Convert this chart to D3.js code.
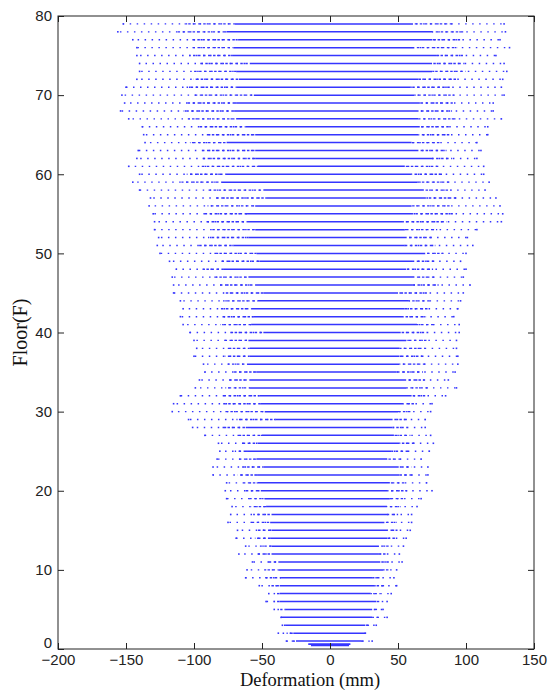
<!DOCTYPE html>
<html>
<head>
<meta charset="utf-8">
<script src="https://cdn.jsdelivr.net/npm/d3@7"></script>
<style>
  body { margin: 0; background: #fff; }
  svg { display: block; }
</style>
</head>
<body>
<div id="chart"></div>
<script>
// Floors 1..79, values (mm)
const floors = d3.range(1, 80);

// outermost dot on the left / right of each floor
const leftMin = [-32, -38, -35, -36, -41, -47, -45, -52, -62, -61, -57, -67, -62, -69, -68, -75, -73, -72, -76, -77,
  -76, -86, -86, -83, -81, -82, -92, -101, -104, -116, -115, -110, -99, -96, -92, -93, -100, -98, -100, -103,
  -108, -110, -108, -110, -115, -115, -116, -113, -118, -125, -127, -126, -129, -129, -130, -133, -132, -140, -145, -140,
  -148, -142, -141, -136, -137, -138, -148, -154, -151, -153, -150, -142, -140, -140, -142, -142, -145, -156, -152];
const rightMax = [31, 26, 34, 42, 39, 42, 45, 49, 47, 49, 53, 51, 54, 56, 59, 60, 60, 64, 67, 75,
  71, 72, 72, 67, 73, 76, 74, 70, 70, 74, 75, 85, 93, 87, 92, 94, 94, 93, 93, 95,
  95, 91, 94, 96, 98, 103, 98, 100, 96, 100, 105, 101, 108, 126, 127, 125, 122, 114, 117, 113,
  113, 108, 111, 108, 116, 116, 126, 120, 120, 128, 126, 127, 130, 128, 122, 132, 125, 129, 128];

// where the solid (dense) part of each floor starts / ends
const leftCore = [-25, -27, -33, -36, -33, -37, -37, -37, -36, -38, -38, -43, -43, -44, -43, -44, -43, -47, -48, -50,
  -53, -53, -49, -54, -61, -53, -50, -61, -40, -48, -50, -52, -59, -59, -54, -61, -59, -59, -60, -49,
  -58, -56, -58, -53, -49, -55, -60, -78, -52, -54, -71, -60, -55, -61, -61, -55, -47, -49, -80, -77,
  -53, -55, -55, -76, -55, -62, -69, -70, -69, -56, -69, -67, -69, -59, -72, -71, -67, -76, -70];
const rightCore = [23, 26, 26, 31, 31, 34, 30, 33, 31, 39, 37, 36, 36, 42, 42, 40, 42, 42, 44, 42,
  44, 51, 50, 42, 45, 51, 47, 46, 46, 50, 54, 60, 56, 56, 49, 51, 51, 51, 56, 52,
  64, 54, 55, 58, 50, 61, 62, 56, 61, 70, 55, 56, 55, 53, 61, 60, 70, 69, 64, 60,
  55, 75, 65, 60, 65, 66, 65, 65, 66, 62, 59, 65, 75, 75, 78, 62, 75, 75, 61];

// short packed segments just above the base
const baseFloors = [0.45, 0.62];
const baseLo = [-14, -16];
const baseHi = [14, 15];

const xTicks = [-200, -150, -100, -50, 0, 50, 100, 150];
const yTicks = [0, 10, 20, 30, 40, 50, 60, 70, 80];

const width = 550, height = 700;
const plotL = 58, plotR = 534, plotT = 16, plotB = 649;
const blue = '#3535ff';

const svg = d3.select('#chart').append('svg')
  .attr('width', width)
  .attr('height', height);

const x = d3.scaleLinear().domain([-200, 150]).range([plotL, plotR]);
const y = d3.scaleLinear().domain([0, 80]).range([plotB, plotT]);

const rows = floors.map((f, i) => ({
  floor: f, i: i,
  lo: leftMin[i], cl: leftCore[i], cr: rightCore[i], hi: rightMax[i]
}));

const plot = svg.append('g');

// sparse dotted zones (outer)
plot.selectAll('.sparseL').data(rows).enter().append('line')
  .attr('x1', d => x(d.lo)).attr('x2', d => x(d.cl))
  .attr('y1', d => y(d.floor)).attr('y2', d => y(d.floor))
  .attr('stroke', blue).attr('stroke-width', 1.4)
  .attr('stroke-dasharray', '1.5 5.5')
  .attr('stroke-dashoffset', d => (d.i * 2.7) % 7);
plot.selectAll('.sparseR').data(rows).enter().append('line')
  .attr('x1', d => x(d.cr)).attr('x2', d => x(d.hi))
  .attr('y1', d => y(d.floor)).attr('y2', d => y(d.floor))
  .attr('stroke', blue).attr('stroke-width', 1.4)
  .attr('stroke-dasharray', '1.5 5.5')
  .attr('stroke-dashoffset', d => (d.i * 3.1) % 7);

// denser dashes close to the solid part
plot.selectAll('.denseL').data(rows).enter().append('line')
  .attr('x1', d => x(d.cl + (d.lo - d.cl) * 0.45)).attr('x2', d => x(d.cl))
  .attr('y1', d => y(d.floor)).attr('y2', d => y(d.floor))
  .attr('stroke', blue).attr('stroke-width', 1.4)
  .attr('stroke-dasharray', '2.5 2.5')
  .attr('stroke-dashoffset', d => (d.i * 1.3) % 5);
plot.selectAll('.denseR').data(rows).enter().append('line')
  .attr('x1', d => x(d.cr)).attr('x2', d => x(d.cr + (d.hi - d.cr) * 0.45))
  .attr('y1', d => y(d.floor)).attr('y2', d => y(d.floor))
  .attr('stroke', blue).attr('stroke-width', 1.4)
  .attr('stroke-dasharray', '2.5 2.5')
  .attr('stroke-dashoffset', d => (d.i * 1.9) % 5);

// solid core
plot.selectAll('.core').data(rows).enter().append('line')
  .attr('x1', d => x(d.cl)).attr('x2', d => x(d.cr))
  .attr('y1', d => y(d.floor)).attr('y2', d => y(d.floor))
  .attr('stroke', blue).attr('stroke-width', 1.5);

// extreme dots
plot.selectAll('.ext').data(rows.flatMap(d => [{ v: d.lo, f: d.floor }, { v: d.hi, f: d.floor }]))
  .enter().append('rect')
  .attr('x', d => x(d.v) - 0.8).attr('y', d => y(d.f) - 0.8)
  .attr('width', 1.6).attr('height', 1.6)
  .attr('fill', blue);

// packed base segments
plot.selectAll('.base').data(baseFloors).enter().append('line')
  .attr('x1', (d, i) => x(baseLo[i])).attr('x2', (d, i) => x(baseHi[i]))
  .attr('y1', d => y(d)).attr('y2', d => y(d))
  .attr('stroke', blue).attr('stroke-width', 1.6);

// axes
const tickFont = '"Liberation Sans", Arial, sans-serif';
const styleAxis = g => {
  g.select('.domain').remove();
  g.selectAll('.tick line').attr('stroke', '#222');
  g.selectAll('.tick text').attr('fill', '#222')
    .style('font-family', tickFont).style('font-size', '15px');
};

svg.append('g').attr('transform', `translate(0,${plotB})`)
  .call(d3.axisBottom(x).tickValues(xTicks).tickSize(-6).tickSizeOuter(0).tickPadding(5))
  .call(styleAxis);
svg.append('g').attr('transform', `translate(0,${plotT})`)
  .call(d3.axisTop(x).tickValues(xTicks).tickSize(-6).tickSizeOuter(0).tickFormat(''))
  .call(styleAxis);
svg.append('g').attr('transform', `translate(${plotL},0)`)
  .call(d3.axisLeft(y).tickValues(yTicks).tickSize(-6).tickSizeOuter(0).tickPadding(6))
  .call(styleAxis)
  .call(g => g.selectAll('.tick').filter(d => d === 0).select('text').attr('dy', '-0.08em'));
svg.append('g').attr('transform', `translate(${plotR},0)`)
  .call(d3.axisRight(y).tickValues(yTicks).tickSize(-6).tickSizeOuter(0).tickFormat(''))
  .call(styleAxis);

svg.append('rect')
  .attr('x', plotL).attr('y', plotT)
  .attr('width', plotR - plotL).attr('height', plotB - plotT)
  .attr('fill', 'none').attr('stroke', '#222').attr('stroke-width', 1);

// axis titles
const serif = '"Liberation Serif", "Times New Roman", serif';
svg.append('text')
  .attr('x', 310).attr('y', 686)
  .attr('text-anchor', 'middle')
  .style('font-family', serif).style('font-size', '18.5px')
  .attr('fill', '#111')
  .text('Deformation (mm)');

svg.append('text')
  .attr('transform', `translate(27,${(plotT + plotB) / 2}) rotate(-90)`)
  .attr('text-anchor', 'middle')
  .style('font-family', serif).style('font-size', '20px')
  .attr('fill', '#111')
  .text('Floor(F)');
</script>
</body>
</html>
